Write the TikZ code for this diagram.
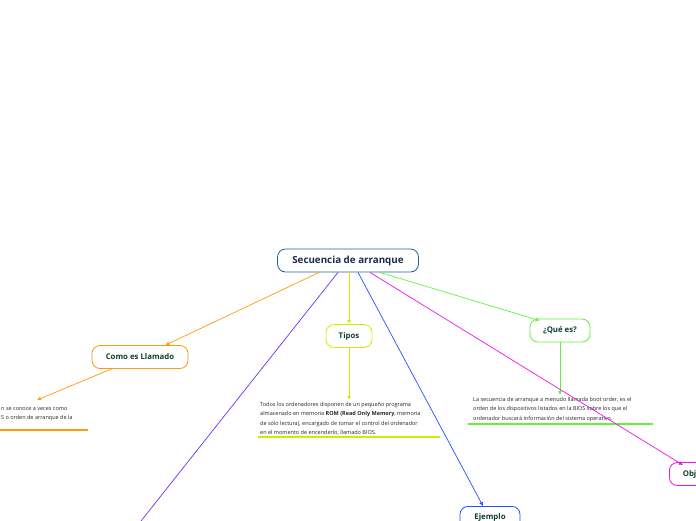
\documentclass[tikz,border=0pt]{standalone}
\usepackage{fontspec}
\setmainfont{Open Sans}
\usepackage{tikz}
\usetikzlibrary{arrows.meta, positioning, calc}
\definecolor{rootBlue}{HTML}{1F6496}
\definecolor{rootText}{HTML}{1B2A4E}
\definecolor{leafText}{HTML}{123E2E}
\definecolor{mmOrange}{HTML}{FF9A0A}
\definecolor{mmYellow}{HTML}{CCEE00}
\definecolor{mmGreen}{HTML}{66F03A}
\definecolor{mmMagenta}{HTML}{EE11EE}
\definecolor{mmBlue}{HTML}{2250FF}
\definecolor{mmPurple}{HTML}{7030F0}

\begin{document}
\begin{tikzpicture}[x=1pt, y=-1pt,
  topic/.style={draw, rounded corners=8pt, line width=0.8pt, minimum height=23pt, align=center, fill=white, text=leafText, font=\fontsize{7.8}{9}\selectfont\bfseries},
  rootbox/.style={topic, draw=rootBlue, text=rootText, minimum width=141pt, font=\fontsize{9.8}{11}\selectfont\bfseries},
  note/.style={align=left, inner sep=2pt, text=black!85, font=\fontsize{5.5}{9.5}\selectfont},
  underline/.style={line width=1.6pt},
  link/.style={line width=0.7pt, -{Latex[length=4pt, width=4pt]}},
]
  \useasboundingbox (0,0) rectangle (696,520);
  \clip (0,0) rectangle (696,520);

  \node[rootbox] (root) at (348,260.5) {Secuencia de arranque};
  \node[topic, draw=mmOrange, minimum width=96pt] (llamado) at (140,357) {Como es Llamado};
  \node[topic, draw=mmYellow, minimum width=46pt] (tipos) at (349,336) {Tipos};
  \node[topic, draw=mmGreen, minimum width=60pt] (quees) at (560,330.5) {¿Qué es?};
  \node[topic, draw=mmMagenta, minimum width=60pt, anchor=west] (objetivo) at (669,474) {Objetivo};
  \node[topic, draw=mmBlue, minimum width=60pt, anchor=north] (ejemplo) at (490,506) {Ejemplo};
  \coordinate (offpage) at (126,540);

  % notes under the topics
  \node[note, anchor=north west] (llamadotxt) at (-1,405) {n se conoce a veces como\\S o orden de arranque de la};
  \node[note, anchor=north west] (tipostxt) at (258,400) {Todos los ordenadores disponen de un pequeño programa\\almacenado en memoria \textbf{ROM (Read Only Memory}, memoria\\de sólo lectura), encargado de tomar el control del ordenador\\en el momento de encenderlo, llamado BIOS.};
  \node[note, anchor=north west] (queestxt) at (471,395) {La secuencia de arranque a menudo llamada boot order, es el\\orden de los dispositivos listados en la BIOS sobre los que el\\ordenador buscará información del sistema operativo.};

  \draw[underline, mmOrange] (0,430) -- (88,430);
  \draw[underline, mmYellow] (258,437) -- (440,437);
  \draw[underline, mmGreen] (468,424) -- (653,424);

  % branches
  \draw[link, mmOrange] ($(root.south west)+(42,0)$) -- ($(llamado.north east)+(-23,0)$);
  \draw[link, mmOrange] ($(llamado.south west)+(20,0)$) -- (37,400);
  \draw[link, mmYellow] (root.south -| tipos) -- (tipos);
  \draw[link, mmYellow] (tipos) -- (tipos |- tipostxt.north);
  \draw[link, mmGreen] ($(root.south east)+(-39,0)$) -- ($(quees.north west)+(10,2)$);
  \draw[link, mmGreen] (quees) -- (quees |- queestxt.north);
  \draw[link, mmMagenta] ($(root.south east)+(-49,0)$) -- ($(objetivo.north west)+(14,3)$);
  \draw[link, mmBlue] ($(root.south)+(10,0)$) -- ($(ejemplo.north)+(-7,0)$);
  \draw[mmPurple, line width=0.7pt] ($(root.south)+(-10,0)$) -- (offpage);
\end{tikzpicture}
\end{document}
